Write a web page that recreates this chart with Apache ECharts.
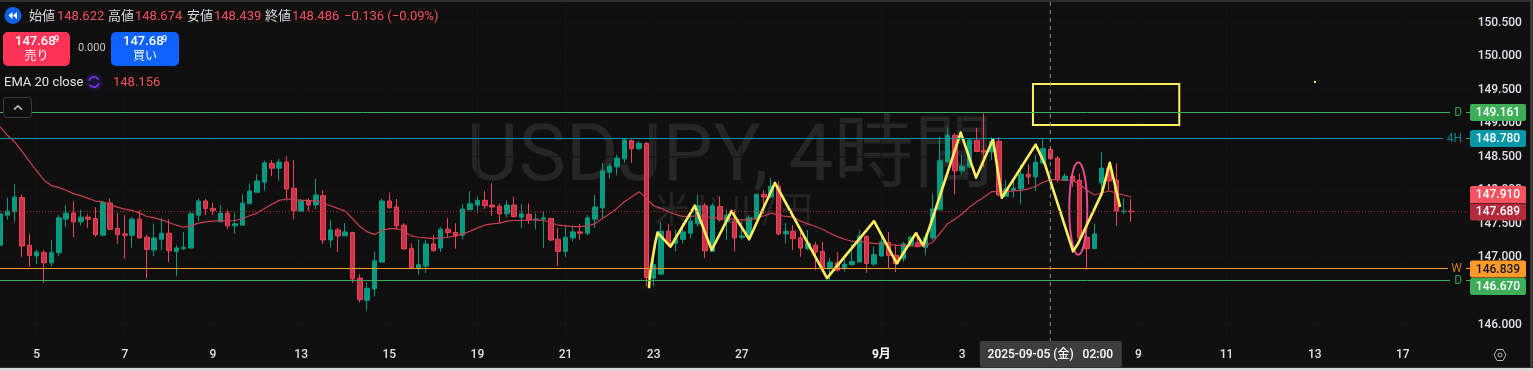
<!DOCTYPE html>
<html><head><meta charset="utf-8">
<style>html,body{margin:0;padding:0;background:#0f0f0f;overflow:hidden}#c{width:1533px;height:371px}</style>
<script src="https://cdn.jsdelivr.net/npm/echarts@6/dist/echarts.min.js"></script>
</head><body><div id="c"></div>
<script>
// [open, close, low, high] per 4-hour bar
const ohlc = [
[147.18,147.65,147.05,147.68],[147.63,147.69,147.56,147.89],[147.68,147.90,147.53,148.09],[147.89,147.17,147.01,147.94],[147.18,147.03,146.86,147.35],
[147.02,147.08,146.90,147.11],[147.07,146.92,146.62,147.11],[146.92,147.07,146.87,147.26],[147.07,147.59,147.02,147.63],[147.57,147.66,147.45,147.78],
[147.66,147.53,147.30,147.84],[147.53,147.60,147.48,147.71],[147.60,147.57,147.44,147.65],[147.58,147.34,147.31,147.75],[147.33,147.82,147.33,147.84],
[147.81,147.42,147.41,147.88],[147.43,147.34,147.20,147.66],[147.35,147.33,146.98,147.63],[147.33,147.57,147.15,147.60],[147.57,147.29,147.28,147.70],
[147.30,147.12,146.69,147.34],[147.11,147.29,147.02,147.50],[147.27,147.36,147.11,147.59],[147.36,147.10,146.93,147.57],[147.09,147.14,146.72,147.18],
[147.13,147.15,147.11,147.38],[147.14,147.65,147.13,147.68],[147.63,147.84,147.54,147.88],[147.84,147.73,147.63,147.87],[147.73,147.70,147.63,147.81],
[147.53,147.66,147.53,147.78],[147.66,147.47,147.42,147.71],[147.47,147.50,147.35,147.66],[147.48,147.81,147.48,147.94],[147.80,147.99,147.80,148.10],
[147.97,148.14,147.97,148.24],[148.12,148.41,148.00,148.44],[148.40,148.33,148.21,148.45],[148.33,148.42,148.14,148.47],[148.42,148.02,147.84,148.51],
[148.03,147.70,147.57,148.45],[147.69,147.84,147.69,147.87],[147.84,147.78,147.69,147.88],[147.78,147.93,147.72,148.17],[147.92,147.26,147.20,148.00],
[147.26,147.41,147.15,147.56],[147.41,147.32,147.08,147.44],[147.32,147.38,147.32,147.51],[147.37,146.68,146.62,147.38],[146.69,146.37,146.33,146.75],
[146.36,146.54,146.21,146.63],[146.53,146.95,146.42,147.09],[146.93,147.84,146.93,147.88],[147.84,147.74,147.73,147.96],[147.75,147.47,147.41,147.87],
[147.48,147.13,147.11,147.51],[147.13,146.85,146.84,147.21],[146.84,146.89,146.74,147.27],[146.87,147.20,146.77,147.26],[147.20,147.10,147.09,147.33],
[147.14,147.42,147.08,147.45],[147.42,147.37,147.30,147.59],[147.37,147.32,147.13,147.51],[147.33,147.72,147.27,147.80],[147.71,147.80,147.71,147.99],
[147.78,147.85,147.66,147.91],[147.85,147.77,147.72,147.99],[147.78,147.75,147.62,148.11],[147.76,147.65,147.51,147.80],[147.65,147.78,147.60,147.85],
[147.78,147.61,147.59,147.90],[147.60,147.65,147.44,147.80],[147.64,147.56,147.50,147.81],[147.56,147.57,147.42,147.66],[147.57,147.59,147.14,147.69],
[147.58,147.26,147.24,147.59],[147.27,147.09,146.87,147.44],[147.09,147.30,147.01,147.48],[147.29,147.38,147.24,147.45],[147.38,147.36,147.26,147.50],
[147.36,147.59,147.33,147.63],[147.57,147.75,147.44,147.93],[147.74,148.29,147.59,148.41],[148.27,148.36,148.17,148.40],[148.35,148.48,148.23,148.53],
[148.47,148.75,148.41,148.78],[148.74,148.62,148.41,148.76],[148.62,148.70,148.60,148.73],[148.70,146.70,146.57,148.72],[146.69,146.89,146.57,147.11],
[146.75,147.39,146.75,147.53],[147.39,147.20,147.16,147.50],[147.21,147.28,147.09,147.41],[147.27,147.38,147.21,147.51],[147.36,147.54,147.29,147.63],
[147.50,147.77,147.46,147.94],[147.77,147.10,146.99,147.81],[147.09,147.77,147.09,147.81],[147.76,147.56,147.53,147.91],[147.53,147.63,147.26,147.71],
[147.54,147.29,147.09,147.71],[147.30,147.32,147.27,147.54],[147.31,147.59,147.28,147.63],[147.57,147.94,147.56,147.95],[147.94,147.90,147.65,148.00],
[147.90,148.06,147.88,148.18],[148.06,147.35,147.33,148.13],[147.35,147.39,147.21,147.51],[147.39,147.28,147.11,147.48],[147.29,147.14,147.01,147.41],
[147.13,147.21,147.11,147.41],[147.18,147.08,146.81,147.23],[147.09,146.84,146.81,147.23],[146.84,146.93,146.66,146.99],[146.92,146.81,146.79,147.08],
[146.84,146.90,146.79,147.04],[146.89,146.94,146.88,147.20],[146.93,147.32,146.93,147.41],[147.31,146.91,146.77,147.33],[146.90,147.04,146.87,147.16],
[147.02,147.23,147.01,147.38],[147.22,147.03,146.84,147.38],[147.03,146.91,146.78,147.20],[146.98,147.20,146.93,147.23],[147.18,147.30,147.16,147.33],
[147.22,147.16,147.15,147.38],[147.15,147.30,147.04,147.36],[147.29,147.72,147.26,147.95],[147.71,148.44,147.71,148.80],[148.42,148.82,148.42,148.94],
[148.82,148.29,147.94,148.85],[148.29,148.36,148.23,148.53],[148.35,148.75,148.33,148.77],[148.74,148.58,148.57,148.93],[148.59,148.57,148.35,149.14],
[148.57,148.73,148.45,148.79],[148.73,147.93,147.91,148.79],[147.91,148.02,147.90,148.15],[148.00,148.03,147.89,148.15],[148.02,148.24,147.80,148.38],
[148.24,148.20,148.09,148.39],[148.20,148.42,147.99,148.53],[148.41,148.62,148.39,148.77],[148.61,148.47,148.45,148.65],[148.48,148.16,148.12,148.51],
[148.15,148.21,148.14,148.25],[148.21,148.14,148.05,148.24],[148.15,147.29,147.26,148.25],[147.30,147.13,146.81,147.33],[147.13,147.35,147.13,147.50],
[148.11,148.33,147.93,148.57],[148.33,148.14,148.00,148.40],[148.15,147.69,147.47,148.40],[147.68,147.69,147.65,147.88],[147.69,147.68,147.53,147.87]
];
const ema20 = [
148.95,148.82,148.72,148.58,148.43,148.29,148.15,148.07,148.04,148.00,147.95,147.92,147.88,147.84,147.83,147.78,147.75,147.72,147.70,147.66,
147.61,147.59,147.56,147.52,147.48,147.45,147.47,147.51,147.53,147.54,147.55,147.54,147.55,147.58,147.62,147.66,147.73,147.79,147.85,147.87,
147.86,147.85,147.85,147.84,147.81,147.77,147.73,147.69,147.58,147.46,147.38,147.34,147.40,147.43,147.43,
147.39,147.32,147.30,147.29,147.28,147.29,147.30,147.32,147.35,147.39,147.44,147.48,147.50,147.51,147.54,147.55,147.55,147.56,147.56,147.55,
147.52,147.48,147.47,147.46,147.46,147.47,147.50,147.58,147.65,147.73,147.83,147.90,147.98,147.88,147.77,147.73,147.68,147.64,147.61,147.61,
147.62,147.61,147.59,147.59,147.58,147.57,147.56,147.56,147.58,147.62,147.66,147.63,147.61,147.60,
147.54,147.50,147.46,147.42,147.36,147.31,147.27,147.24,147.24,147.22,147.21,147.20,147.20,147.18,147.18,147.17,147.17,147.17,147.23,147.36,
147.50,147.57,147.65,147.75,147.83,147.90,147.98,147.98,147.98,147.99,148.00,148.02,148.06,148.12,148.16,148.16,148.15,148.15,148.09,148.00,
147.93,147.96,147.99,147.96,147.93,147.90
];
// hand-drawn zigzag: [bar position, price]
const zigzag = [
[88.36,146.54],[88.5,146.76],[89.2,147.21],[89.53,147.37],[91.3,147.16],[94.6,147.77],[96.9,147.11],[99.6,147.69],[102,147.27],[105.5,148.11],
[112.6,146.69],[119,147.54],[122.1,146.91],[124.7,147.36],[125.7,147.18],[126.6,147.46],[130.8,148.86],[132.9,148.19],[135.2,148.76],[136.4,147.89],
[141,148.68],[142.3,148.38],[146.1,147.09],[146.8,147.21],[150,147.95],[151.1,148.41],[152.5,147.75]
];
const boxZone = [140.64,149.584,160.56,148.973];
const ellipseZone = [145.58,148.417,148.03,147.04];
const stray = [178.9,149.63];
const tickBars = [5,17,29,41,53,65,77,89,101,120,131,155,167,179,191];
const tickLabels = ['5','7','9','13','15','19','21','23','27','9月','3','9','11','13','17'];
const gridBars = [5,17,29,41,53,65,77,89,101,120,131,143,155,167,179,191];
const gridPrices = [146,146.5,147,147.5,148,148.5,149,149.5,150,150.5];
const levelPrices = [149.161,148.780,146.839,146.670];
const levelTags = ['D','4H','W','D'];
const levelColors = ['#3fae58','#0097a7','#ff9a2b','#3fae58'];
const levelTagColors = ['#3a9c50','#0b8494','#c97c22','#3a9c50'];
const levelLineEnds = [1450,1443,1448,1450];
const levelBadgeShift = [0,0,0.5,6];
const levelTextColors = ['#fff','#fff','#131722','#fff'];
const lastPrice = 147.689, emaLast = 147.910;
const crossBar = 143;
const crossText = '2025-09-05 (金)   02:00';
const N = 201;

const categories = Array.from({length:N},(_, i)=>{const k=tickBars.indexOf(i);return k<0?'':tickLabels[k];});
const FONT = 'Roboto, "Noto Sans CJK JP", sans-serif';
const GREY = '#d9dbe0', RED='#f7525f', YEL='#ffef5f';
const chart = echarts.init(document.getElementById('c'),null,{renderer:'canvas'});

function txt(x,y,text,fill,size,weight,align){return {type:'text',x,y,z:20,silent:true,style:{text,fill,font:`${weight||400} ${size}px ${FONT}`,textAlign:align||'left',textVerticalAlign:'middle'}};}
function rect(x,y,w,h,fill,r,stroke){return {type:'rect',z:19,silent:true,shape:{x,y,width:w,height:h,r:r||0},style:{fill:fill,stroke:stroke||null,lineWidth:1}};}

const header = [
  rect(0,0,1533,2,'#2e2e2e'), rect(1530,0,3,371,'#3a3a3a'), rect(0,367,1533,1,'#2e2e2e'), rect(0,368,1533,3,'#d8d8d8'),
  {type:'text',x:730,y:160,z:-1,silent:true,style:{text:'USDJPY, 4時間',fill:'#262626',font:`400 80px ${FONT}`,textAlign:'center',textVerticalAlign:'middle'}},
  {type:'text',x:733,y:214,z:-1,silent:true,style:{text:'米ドル/円',fill:'#242424',font:`400 36px ${FONT}`,textAlign:'center',textVerticalAlign:'middle'}},
  {type:'circle',z:19,silent:true,shape:{cx:13,cy:15.5,r:8.5},style:{fill:'#0d62e8'}},
  {type:'polygon',z:20,silent:true,shape:{points:[[8.5,15.5],[12.5,12],[12.5,19]]},style:{fill:'#fff'}},
  {type:'polygon',z:20,silent:true,shape:{points:[[13,15.5],[17,12],[17,19]]},style:{fill:'#fff'}},
  txt(29,17,'始値',GREY,13), txt(57,17,'148.622',RED,13),
  txt(108,17,'高値',GREY,13), txt(135,17,'148.674',RED,13),
  txt(187,17,'安値',GREY,13), txt(214,17,'148.439',RED,13),
  txt(265,17,'終値',GREY,13), txt(292,17,'148.486',RED,13),
  txt(344,17,'−0.136 (−0.09%)',RED,13),
  rect(3,32,67,34,'#ff3355',5),
  txt(15,42,'147.68','#fff',13,500), txt(54,39.5,'9','#fff',9,500), txt(36.5,57,'売り','#fff',12,400,'center'),
  txt(78,48,'0.000','#c8c8c8',11),
  rect(111,32,68,34,'#0f62fe',5),
  txt(123,42,'147.68','#fff',13,500), txt(162,39.5,'9','#fff',9,500), txt(145,57,'買い','#fff',12,400,'center'),
  txt(4,82.5,'EMA 20 close','#e4e4e4',13),
  {type:'circle',z:19,silent:true,shape:{cx:94,cy:82,r:9},style:{fill:'#1c1530'}},
  {type:'arc',z:20,silent:true,shape:{cx:94,cy:82,r:5,startAngle:-2.9,endAngle:-0.5},style:{stroke:'#6b30e0',lineWidth:2,fill:null}},
  {type:'arc',z:20,silent:true,shape:{cx:94,cy:82,r:5,startAngle:0.25,endAngle:2.65},style:{stroke:'#6b30e0',lineWidth:2,fill:null}},
  txt(113,83,'148.156',RED,13),
  rect(3.5,97.5,28,20,'#0f0f0f',3,'#3c3c3c'),
  {type:'polyline',z:20,silent:true,shape:{points:[[14,109.5],[18,106],[22,109.5]]},style:{stroke:'#d0d0d0',lineWidth:1.5,fill:null}},
  {type:'polygon',z:20,silent:true,shape:{points:[[1494,355],[1497,349.5],[1503,349.5],[1506,355],[1503,360.5],[1497,360.5]]},style:{stroke:'#b8b8b8',lineWidth:1,fill:null}},
  {type:'circle',z:20,silent:true,shape:{cx:1500,cy:355,r:2},style:{stroke:'#b8b8b8',lineWidth:1,fill:null}}
];

const option = {
  backgroundColor:'#0f0f0f', animation:false,
  grid:{left:-3.67,top:5.775,width:1476.3,height:335.5,outerBoundsMode:'none'},
  xAxis:[
    {type:'category',data:categories,boundaryGap:true,axisLine:{show:false},axisTick:{show:false},splitLine:{show:false},
     axisLabel:{interval:0,margin:8,hideOverlap:false,color:'#dfe1e6',fontFamily:FONT,fontSize:12,fontWeight:500,
       formatter:v=>v==='9月'?'{b|9月}':v,rich:{b:{color:'#fff',fontFamily:FONT,fontSize:12,fontWeight:700}}}},
    {type:'value',min:-0.5,max:N-0.5,show:false}
  ],
  yAxis:{type:'value',position:'right',min:145.75,max:150.75,interval:0.25,scale:true,
    axisLine:{show:false},axisTick:{show:false},splitLine:{show:false},
    axisLabel:{margin:5,align:'left',color:'#dfe1e6',fontFamily:FONT,fontSize:12,fontWeight:500,
      formatter:v=>(Math.abs(v*2-Math.round(v*2))<1e-6&&v>=146&&v<=150.5)?v.toFixed(3):''}},
  graphic:header,
  series:[
    {type:'custom',name:'grid',xAxisIndex:1,yAxisIndex:0,silent:true,z:0,data:gridBars.map(b=>[b,0]).concat(gridPrices.map(p=>[-1,p])),
     encode:{x:0,y:1},clip:false,renderItem:(p,api)=>{
       const b=api.value(0),v=api.value(1);
       if(b>=0){const c=api.coord([b,146]);return {type:'line',shape:{x1:c[0],y1:0,x2:c[0],y2:341},style:{stroke:'#151515',lineWidth:1}};}
       const c=api.coord([0,v]);return {type:'line',shape:{x1:0,y1:c[1],x2:1473,y2:c[1]},style:{stroke:'#151515',lineWidth:1}};
     }},
    {type:'candlestick',name:'USDJPY',data:ohlc,barWidth:5,z:3,
     itemStyle:{color:'#089981',color0:'#c93248',borderColor:'#089981',borderColor0:'#ee4458',borderWidth:1}},
    {type:'line',name:'EMA 20',data:ema20,showSymbol:false,symbol:'none',smooth:false,z:4,lineStyle:{color:'#c9404f',width:1.2}},
    {type:'line',name:'zigzag',xAxisIndex:1,data:zigzag,showSymbol:false,symbol:'none',z:6,lineStyle:{color:YEL,width:2.6,join:'round'}},
    {type:'custom',name:'crosshair',xAxisIndex:1,z:7,silent:true,clip:false,data:[[crossBar,146]],encode:{x:0,y:1},
     renderItem:(p,api)=>{const c=api.coord([api.value(0),146]);return {type:'group',children:[
       {type:'line',shape:{x1:c[0],y1:2,x2:c[0],y2:341},style:{stroke:'#8a8d94',lineWidth:1,lineDash:[4,4]}},
       {type:'rect',shape:{x:c[0]-70.5,y:341,width:142,height:26,r:2},style:{fill:'#3d3d3d'}},
       {type:'text',x:c[0],y:354.5,style:{text:crossText,fill:'#fff',font:`500 12px ${FONT}`,textAlign:'center',textVerticalAlign:'middle'}}
     ]};}},
    {type:'custom',name:'drawings',xAxisIndex:1,z:6,silent:true,clip:false,data:[boxZone,ellipseZone],encode:{x:[0,2],y:[1,3]},
     renderItem:(p,api)=>{
       const a=api.coord([api.value(0),api.value(1)]),b=api.coord([api.value(2),api.value(3)]);
       if(p.dataIndex===0) return {type:'rect',shape:{x:a[0],y:a[1],width:b[0]-a[0],height:b[1]-a[1]},style:{fill:null,stroke:YEL,lineWidth:2}};
       return {type:'ellipse',shape:{cx:(a[0]+b[0])/2,cy:(a[1]+b[1])/2,rx:(b[0]-a[0])/2,ry:(b[1]-a[1])/2},style:{fill:null,stroke:'#e84a90',lineWidth:2}};
     }},
    {type:'custom',name:'stray',xAxisIndex:1,z:6,silent:true,data:[stray],encode:{x:0,y:1},
     renderItem:(p,api)=>{const c=api.coord([api.value(0),api.value(1)]);return {type:'rect',shape:{x:c[0],y:c[1],width:2,height:2},style:{fill:YEL}};}},
    {type:'custom',name:'levels',xAxisIndex:1,z:8,silent:true,clip:false,data:levelPrices.map(v=>[0,v]),encode:{x:0,y:1},
     renderItem:(p,api)=>{
       const i=p.dataIndex,v=api.value(1),y=Math.round(api.coord([0,v])[1])+0.5,col=levelColors[i];
       return {type:'group',children:[
         {type:'line',shape:{x1:0,y1:y,x2:levelLineEnds[i],y2:y},style:{stroke:col,lineWidth:1}},
         {type:'text',x:1462,y:y,style:{text:levelTags[i],fill:levelTagColors[i],font:`400 12px ${FONT}`,textAlign:'right',textVerticalAlign:'middle'}},
         {type:'line',shape:{x1:1466,y1:y,x2:1470,y2:y},style:{stroke:col,lineWidth:1}},
         {type:'rect',shape:{x:1470,y:y-8.5+levelBadgeShift[i],width:56,height:17,r:2},style:{fill:col}},
         {type:'text',x:1498,y:y+levelBadgeShift[i]+0.5,style:{text:v.toFixed(3),fill:levelTextColors[i],font:`500 12px ${FONT}`,textAlign:'center',textVerticalAlign:'middle'}}
       ]};
     }},
    {type:'custom',name:'prices',xAxisIndex:1,z:9,silent:true,clip:false,data:[[0,emaLast],[0,lastPrice]],encode:{x:0,y:1},
     renderItem:(p,api)=>{
       const v=api.value(1),y=Math.round(api.coord([0,v])[1])+0.5,cur=p.dataIndex===1;
       const ch=[
         {type:'rect',shape:{x:1470,y:cur?y-8:y-10.5,width:56,height:17,r:cur?[0,0,2,2]:[2,2,0,0]},style:{fill:cur?'#b22a3c':'#f7525f'}},
         {type:'text',x:1498,y:cur?y+0.5:y-2,style:{text:v.toFixed(3),fill:'#fff',font:`500 12px ${FONT}`,textAlign:'center',textVerticalAlign:'middle'}}
       ];
       if(cur) ch.unshift({type:'line',shape:{x1:0,y1:y,x2:1470,y2:y},style:{stroke:'#b22a3c',lineWidth:1,lineDash:[1,2]}});
       return {type:'group',children:ch};
     }}
  ]
};
chart.setOption(option);
</script></body></html>
